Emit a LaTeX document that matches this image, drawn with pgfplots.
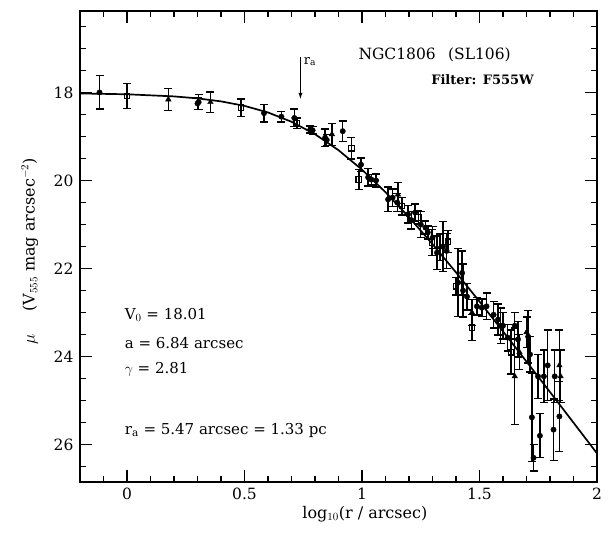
\documentclass[border=0pt]{standalone}
\usepackage{fontspec}
\setmainfont{DejaVu Serif}
\usepackage{pgfplots}
\usepackage{pgfplotstable}
\pgfplotsset{compat=1.18}
\usetikzlibrary{arrows.meta}

\pgfplotstableread{
x y e
-0.117 18.00 0.38
0.305 18.22 0.17
0.300 18.25 0.14
0.583 18.47 0.20
0.657 18.55 0.12
0.712 18.58 0.20
0.780 18.84 0.08
0.790 18.86 0.08
0.843 19.03 0.20
0.850 19.08 0.12
0.918 18.88 0.23
0.996 19.64 0.15
1.026 19.93 0.20
1.040 19.98 0.12
1.060 20.00 0.15
1.111 20.43 0.28
1.130 20.39 0.20
1.150 20.50 0.20
1.196 20.77 0.20
1.210 20.90 0.20
1.226 20.73 0.20
1.250 21.00 0.30
1.270 21.07 0.15
1.280 21.18 0.15
1.300 21.30 0.25
1.319 21.64 0.38
1.345 21.50 0.57
1.360 21.60 0.40
1.409 22.32 0.77
1.426 22.10 0.50
1.430 22.50 0.60
1.447 22.64 0.30
1.489 22.86 0.20
1.510 22.89 0.20
1.530 22.86 0.30
1.560 23.05 0.30
1.579 23.16 0.35
1.590 23.30 0.40
1.600 23.30 0.30
1.620 23.57 0.30
1.650 23.30 0.30
1.664 23.61 0.40
1.707 23.55 0.60
1.715 23.95 0.40
1.749 24.45 0.50
1.774 24.45 0.60
1.790 24.20 0.80
1.820 24.45 0.60
1.723 25.38 1.00
1.730 26.30 0.30
1.757 25.80 0.50
1.815 25.66 0.70
1.840 25.36 0.80
}\circdata

\pgfplotstableread{
x y e
0.000 18.08 0.28
0.485 18.35 0.20
0.723 18.70 0.12
0.955 19.27 0.24
0.987 19.98 0.23
1.170 20.58 0.20
1.240 20.84 0.15
1.298 21.41 0.30
1.366 21.39 0.25
1.400 22.40 0.20
1.468 23.34 0.30
1.634 23.90 0.50
}\sqdata

\pgfplotstableread{
x y e
0.176 18.16 0.25
0.355 18.22 0.23
0.872 18.95 0.25
1.153 20.32 0.27
1.332 21.52 0.30
1.468 23.00 0.30
1.700 23.45 0.35
1.670 23.90 0.40
1.840 24.20 0.80
1.650 24.45 1.10
1.845 24.45 0.60
}\tridata

\pgfplotstableread{
x y
-0.2 18.023
0.0 18.042
0.2 18.090
0.3 18.135
0.4 18.203
0.5 18.305
0.6 18.455
0.7 18.666
0.8 18.949
0.9 19.312
1.0 19.754
1.1 20.266
1.2 20.834
1.3 21.446
1.4 22.088
1.5 22.751
1.6 23.428
1.7 24.114
1.8 24.806
1.9 25.502
2.0 26.200
}\modeldata

\pgfplotsset{
  myerr/.style={
    error bars/.cd,
      y dir=both, y explicit,
      error mark=-,
      error bar style={line width=1.4pt, black},
      error mark options={line width=1.4pt, black, mark size=4pt, rotate=90},
  },
}

\begin{document}
\begin{tikzpicture}
\path[use as bounding box] (-80pt,-59pt) rectangle (528pt,482pt);
\begin{axis}[
  at={(0pt,0pt)}, anchor=south west,
  width=517pt, height=471pt, scale only axis,
  axis lines=box,
  xmin=-0.2, xmax=2, ymin=16.15, ymax=26.85, y dir=reverse,
  xtick={0,0.5,1,1.5,2}, xticklabels={0,0.5,1,1.5,2},
  ytick={18,20,22,24,26},
  tick align=inside,
  major tick length=12pt,
  tick style={line width=1.4pt, black},
  axis line style={line width=1.8pt, black},
  /pgf/number format/assume math mode=true,
  tick label style={font=\fontsize{15.5}{18}\selectfont},
  xticklabel style={yshift=-2pt},
  yticklabel style={xshift=-3pt},
  xlabel={log$_{10}$(r / arcsec)},
  ylabel={$\mu$\hspace{1.4em}(V$_{555}$ mag arcsec$^{-2}$)},
  label style={font=\fontsize{16}{19}\selectfont},
  xlabel style={at={(axis description cs:0.551,-0.068)}, anchor=center},
  ylabel style={at={(axis description cs:-0.097,0.49)}, anchor=center},
  clip=false,
]
\addplot[black, line width=1.7pt, no marks] table[x=x, y=y] {\modeldata};
\addplot[black, only marks, mark=*, mark size=2.7pt, myerr]
  table[x=x, y=y, y error=e] {\circdata};
\addplot[black, only marks, mark=square, mark size=2.8pt, mark options={fill=white, line width=1.3pt}, myerr]
  table[x=x, y=y, y error=e] {\sqdata};
\addplot[black, only marks, mark=triangle*, mark size=3.2pt, myerr]
  table[x=x, y=y, y error=e] {\tridata};

\draw[line width=1.4pt, -{Latex[length=7pt,width=4pt]}] (axis cs:0.738,17.2) -- (axis cs:0.738,18.17);
\node[anchor=west, font=\fontsize{13}{15}\selectfont, inner sep=0pt] at (axis cs:0.752,17.3) {r$_{\mathrm a}$};

\node[anchor=east, font=\fontsize{15.5}{18}\selectfont, inner sep=0pt] at (axis cs:1.634,17.14) {NGC1806\hspace{0.8em}(SL106)};
\node[anchor=east, font=\fontsize{13}{15}\bfseries\selectfont, inner sep=0pt] at (axis cs:1.732,17.7) {Filter:\hspace{0.5em}F555W};

\begin{scope}[every node/.style={anchor=west, inner sep=0pt, font=\fontsize{15}{18}\selectfont}]
\node at (axis cs:-0.01,23.05) {V$_0$ = 18.01};
\node at (axis cs:-0.01,23.70) {a = 6.84 arcsec};
\node at (axis cs:-0.01,24.30) {$\gamma$ = 2.81};
\node at (axis cs:-0.01,25.68) {r$_{\mathrm a}$ = 5.47 arcsec = 1.33 pc};
\end{scope}
\end{axis}
% frame and ticks as filled shapes in canvas units (axis box 517pt x 471pt at origin)
\fill[black, even odd rule] (-0.9pt,-0.9pt) rectangle (517.9pt,471.9pt)
                           (0.9pt,0.9pt) rectangle (516.1pt,470.1pt);
\foreach \v in {0,0.5,1,1.5} {
  \fill[black] ({(\v+0.2)*235pt-0.7pt},0pt) rectangle ({(\v+0.2)*235pt+0.7pt},12pt);
  \fill[black] ({(\v+0.2)*235pt-0.7pt},459pt) rectangle ({(\v+0.2)*235pt+0.7pt},471pt);
}
\foreach \v in {-0.1,0.1,0.2,0.3,0.4,0.6,0.7,0.8,0.9,1.1,1.2,1.3,1.4,1.6,1.7,1.8,1.9} {
  \fill[black] ({(\v+0.2)*235pt-0.7pt},0pt) rectangle ({(\v+0.2)*235pt+0.7pt},6pt);
  \fill[black] ({(\v+0.2)*235pt-0.7pt},465pt) rectangle ({(\v+0.2)*235pt+0.7pt},471pt);
}
\foreach \v in {18,20,22,24,26} {
  \fill[black] (0pt,{(26.85-\v)*44.0187pt-0.7pt}) rectangle (12pt,{(26.85-\v)*44.0187pt+0.7pt});
  \fill[black] (505pt,{(26.85-\v)*44.0187pt-0.7pt}) rectangle (517pt,{(26.85-\v)*44.0187pt+0.7pt});
}
\foreach \v in {16.5,17,17.5,18.5,19,19.5,20.5,21,21.5,22.5,23,23.5,24.5,25,25.5,26.5} {
  \fill[black] (0pt,{(26.85-\v)*44.0187pt-0.7pt}) rectangle (6pt,{(26.85-\v)*44.0187pt+0.7pt});
  \fill[black] (511pt,{(26.85-\v)*44.0187pt-0.7pt}) rectangle (517pt,{(26.85-\v)*44.0187pt+0.7pt});
}
\end{tikzpicture}
\end{document}
